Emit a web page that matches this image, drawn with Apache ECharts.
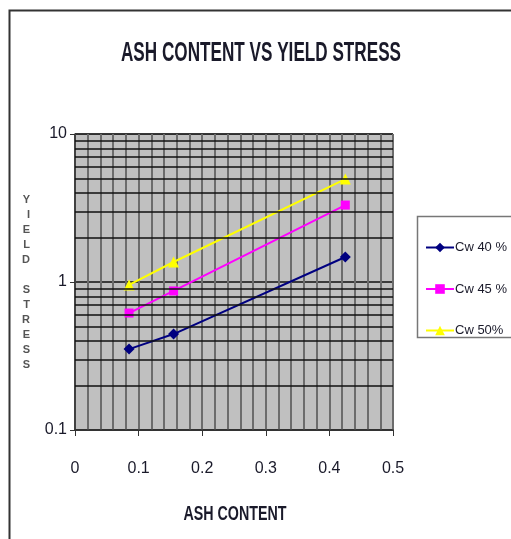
<!DOCTYPE html>
<html>
<head>
<meta charset="utf-8">
<script src="https://cdn.jsdelivr.net/npm/echarts@6/dist/echarts.min.js"></script>
<style>
  html, body { margin: 0; padding: 0; background: #fff; }
  #chart { width: 511px; height: 539px; }
</style>
</head>
<body>
<div id="chart"></div>
<script>
// ash content (x) for each point
const ashContent = [0.085, 0.155, 0.425];
// yield stress per concentration
const cw40 = [0.352, 0.445, 1.475];
const cw45 = [0.617, 0.87, 3.31];
const cw50 = [0.955, 1.365, 4.96];
const seriesNames = ['Cw 40 %', 'Cw 45 %', 'Cw 50%'];
// minor horizontal grid values on the log axis
const yMinorGrid = [0.2, 0.3, 0.4, 0.5, 0.6, 0.7, 0.8, 0.9, 2, 3, 4, 5, 6, 7, 8, 9];

const sans = '"Liberation Sans", Arial, sans-serif';
const ink = '#1a1a2a';

const chart = echarts.init(document.getElementById('chart'));

const pairs = (ys) => ashContent.map((x, i) => [x, ys[i]]);

chart.setOption({
  animation: false,
  backgroundColor: '#fff',
  graphic: [
    {
      type: 'rect',
      shape: { x: 9.5, y: 10.5, width: 620, height: 620 },
      style: { fill: 'none', stroke: '#333', lineWidth: 2 },
      z: -1,
    },
    {
      // chart title, squeezed like the original narrow face
      type: 'text',
      x: 261,
      y: 54,
      scaleX: 0.635,
      style: {
        text: 'ASH CONTENT VS YIELD STRESS',
        textAlign: 'center',
        textVerticalAlign: 'middle',
        font: 'bold 27px ' + sans,
        fill: ink,
      },
    },
    {
      // x axis title
      type: 'text',
      x: 235,
      y: 514,
      scaleX: 0.68,
      style: {
        text: 'ASH CONTENT',
        textAlign: 'center',
        textVerticalAlign: 'middle',
        font: 'bold 21px ' + sans,
        fill: ink,
      },
    },
    {
      type: 'rect',
      shape: { x: 417.5, y: 216.5, width: 120, height: 121 },
      style: { fill: '#fff', stroke: '#777', lineWidth: 1.5 },
      z: 1,
    },
  ],
  legend: {
    orient: 'vertical',
    left: 420,
    top: 236,
    itemWidth: 28,
    itemHeight: 12,
    itemGap: 28.5,
    z: 5,
    textStyle: { fontFamily: sans, fontSize: 13, color: ink, padding: [0, 0, 0, -4] },
    data: seriesNames,
  },
  grid: {
    left: 75,
    top: 134,
    right: 118,
    bottom: 109,
    show: true,
    backgroundColor: '#c0c0c0',
    borderColor: '#555',
    borderWidth: 1,
  },
  xAxis: {
    type: 'value',
    min: 0,
    max: 0.5,
    interval: 0.1,
    axisLine: { show: true, lineStyle: { color: '#333', width: 1.5 } },
    axisTick: { show: true, length: 6, lineStyle: { color: '#333' } },
    axisLabel: { margin: 31, fontFamily: sans, fontSize: 16, color: ink },
    splitLine: { show: true, lineStyle: { color: '#6c6c6c', width: 2 } },
    minorTick: { show: false, splitNumber: 5 },
    minorSplitLine: { show: true, lineStyle: { color: '#6c6c6c', width: 2 } },
  },
  yAxis: {
    type: 'log',
    logBase: 10,
    min: 0.1,
    max: 10,
    name: 'Y\nI\nE\nL\nD\n \nS\nT\nR\nE\nS\nS',
    nameLocation: 'middle',
    nameRotate: 0,
    nameGap: 45,
    nameTextStyle: { fontFamily: sans, fontWeight: 'bold', fontSize: 11, lineHeight: 15, color: '#555' },
    axisLine: { show: true, lineStyle: { color: '#333', width: 1.5 } },
    axisTick: { show: true, length: 5, lineStyle: { color: '#333' } },
    axisLabel: { margin: 8, fontFamily: sans, fontSize: 16, color: ink },
    splitLine: { show: true, lineStyle: { color: '#111', width: 1.5 } },
  },
  series: [
    {
      name: 'grid',
      type: 'line',
      data: [],
      silent: true,
      z: 1,
      markLine: {
        silent: true,
        symbol: 'none',
        label: { show: false },
        lineStyle: { color: '#111', width: 1.5, type: 'solid' },
        data: yMinorGrid.map((v) => ({ yAxis: v })),
      },
    },
    {
      name: seriesNames[0],
      type: 'line',
      data: pairs(cw40),
      symbol: 'diamond',
      symbolSize: 11,
      color: '#000080',
      lineStyle: { width: 2 },
      z: 3,
    },
    {
      name: seriesNames[1],
      type: 'line',
      data: pairs(cw45),
      symbol: 'rect',
      symbolSize: 9,
      color: '#ff00ff',
      lineStyle: { width: 2 },
      z: 3,
    },
    {
      name: seriesNames[2],
      type: 'line',
      data: pairs(cw50),
      symbol: 'triangle',
      symbolSize: 11,
      color: '#ffff00',
      lineStyle: { width: 2 },
      z: 3,
    },
  ],
});
</script>
</body>
</html>
